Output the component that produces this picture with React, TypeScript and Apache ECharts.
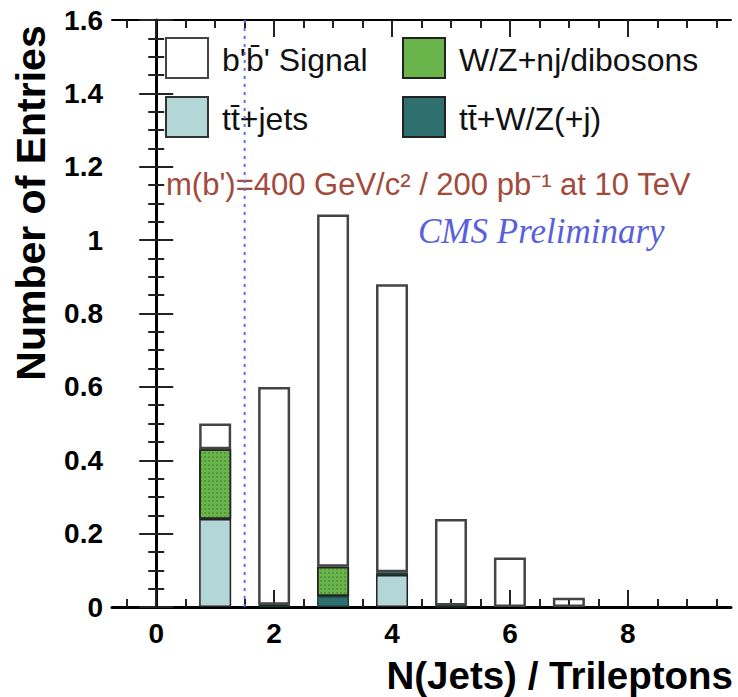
import React, { useEffect, useRef } from "react";
import * as echarts from "echarts";

// Jet multiplicity bins
const bins = [0, 1, 2, 3, 4, 5, 6, 7, 8, 9];

// Stacked contributions per bin (entries)
const ttJets = [0, 0.24, 0, 0, 0.087, 0, 0, 0, 0, 0];
const ttWZ = [0, 0, 0.003, 0.03, 0.008, 0.002, 0, 0, 0, 0];
const wzJets = [0, 0.19, 0.003, 0.08, 0, 0.002, 0, 0, 0, 0];
const signal = [0, 0.07, 0.594, 0.96, 0.785, 0.236, 0.135, 0.025, 0, 0];

// Axis ticks
const xMajorTicks = [0, 2, 4, 6, 8];
const xMinorTicks = [-0.5, 0.5, 1, 1.5, 2.5, 3, 3.5, 4.5, 5, 5.5, 6.5, 7, 7.5, 8.5, 9, 9.5];
const xRange = [-0.75, 9.75];
const yRange = [0, 1.6];
const yStep = 0.2;
const cutValue = 1.5;

const SANS = '"Liberation Sans", Arial, Helvetica, sans-serif';
const SERIF = '"Liberation Serif", "Times New Roman", serif';

const C_SIGNAL = "#ffffff";
const C_TTJETS = "#b3d6d6";
const C_TTWZ = "#2f6f6d";
const C_WZ = "#6ab54b";

// Value column first so that the stack runs along the y axis
const toData = (vals: number[]) => bins.map((b, i) => [vals[i] === 0 ? null : vals[i], b]);

export default function App() {
  const ref = useRef<HTMLDivElement>(null);

  useEffect(() => {
    document.body.style.margin = "0";
    const chart = echarts.init(ref.current!, null, { renderer: "svg" });

    const xBase = {
      type: "value",
      min: xRange[0],
      max: xRange[1],
      splitLine: { show: false },
    };
    const yBase = {
      type: "value",
      min: yRange[0],
      max: yRange[1],
      interval: yStep,
      splitLine: { show: false },
    };

    const barCommon = {
      type: "bar",
      stack: "total",
      barWidth: 32,
      xAxisIndex: 0,
      yAxisIndex: 0,
      encode: { x: 1, y: 0 },
    };

    const legendRows = [
      { x: 166, y: 38, color: C_SIGNAL, label: "b'b\u0304' Signal", border: "#444" },
      { x: 403, y: 38, color: C_WZ, label: "W/Z+nj/dibosons", border: "#222" },
      { x: 166, y: 97, color: C_TTJETS, label: "tt\u0304+jets", border: "#333" },
      { x: 403, y: 97, color: C_TTWZ, label: "tt\u0304+W/Z(+j)", border: "#222" },
    ];

    const graphics: any[] = [];
    legendRows.forEach((r) => {
      graphics.push({
        type: "rect",
        shape: { x: r.x, y: r.y, width: 42, height: 40 },
        style: { fill: r.color, stroke: r.border, lineWidth: 2 },
      });
      graphics.push({
        type: "text",
        x: r.x + 56,
        y: r.y + 22,
        style: {
          text: r.label,
          font: `32px ${SANS}`,
          fill: "#111",
          verticalAlign: "middle",
          align: "left",
        },
      });
    });

    graphics.push(
      {
        type: "text",
        x: 166,
        y: 184,
        style: {
          text: "m(b')=400 GeV/c² / 200 pb⁻¹ at 10 TeV",
          font: `31px ${SANS}`,
          fill: "#a24a3c",
          verticalAlign: "middle",
          align: "left",
        },
      },
      {
        type: "text",
        x: 418,
        y: 231,
        style: {
          text: "CMS Preliminary",
          font: `italic 35px ${SERIF}`,
          fill: "#5a5fdc",
          verticalAlign: "middle",
          align: "left",
        },
      },
      {
        type: "text",
        x: 31,
        y: 203,
        rotation: Math.PI / 2,
        style: {
          text: "Number of Entries",
          font: `bold 41px ${SANS}`,
          fill: "#000",
          verticalAlign: "middle",
          align: "center",
        },
      },
      {
        type: "text",
        x: 733,
        y: 675,
        style: {
          text: "N(Jets) / Trileptons",
          font: `bold 38.5px ${SANS}`,
          fill: "#000",
          verticalAlign: "middle",
          align: "right",
        },
      }
    );

    chart.setOption({
      animation: false,
      backgroundColor: "#ffffff",
      grid: { left: 112, right: 7, top: 20, bottom: 90, outerBoundsMode: "none" },
      xAxis: [
        {
          ...xBase,
          position: "bottom",
          axisLine: { show: true, lineStyle: { color: "#000", width: 3 } },
          axisTick: {
            show: true,
            inside: true,
            length: 17,
            customValues: xMajorTicks,
            lineStyle: { color: "#222", width: 2 },
          },
          axisLabel: {
            show: true,
            customValues: xMajorTicks,
            margin: 12,
            color: "#000",
            fontFamily: SANS,
            fontWeight: "bold",
            fontSize: 28,
          },
        },
        {
          ...xBase,
          position: "bottom",
          axisLine: { show: false },
          axisTick: {
            show: true,
            inside: true,
            length: 8,
            customValues: xMinorTicks,
            lineStyle: { color: "#222", width: 2 },
          },
          axisLabel: { show: false },
        },
        {
          ...xBase,
          position: "top",
          axisLine: { show: true, lineStyle: { color: "#000", width: 2 } },
          axisTick: {
            show: true,
            inside: true,
            length: 17,
            customValues: xMajorTicks,
            lineStyle: { color: "#222", width: 2 },
          },
          axisLabel: { show: false },
        },
        {
          ...xBase,
          position: "top",
          axisLine: { show: false },
          axisTick: {
            show: true,
            inside: true,
            length: 8,
            customValues: xMinorTicks,
            lineStyle: { color: "#222", width: 2 },
          },
          axisLabel: { show: false },
        },
      ],
      yAxis: [
        {
          ...yBase,
          position: "left",
          axisLine: { show: true, lineStyle: { color: "#000", width: 3 } },
          axisTick: { show: true, inside: true, length: 17, lineStyle: { color: "#222", width: 2 } },
          minorTick: { show: true, splitNumber: 4, length: 8, lineStyle: { color: "#222", width: 2 } },
          axisLabel: {
            show: true,
            margin: 9,
            color: "#000",
            fontFamily: SANS,
            fontWeight: "bold",
            fontSize: 28,
          },
        },
        {
          ...yBase,
          position: "right",
          axisLine: { show: true, lineStyle: { color: "#000", width: 2 } },
          axisTick: { show: true, inside: true, length: 17, lineStyle: { color: "#222", width: 2 } },
          minorTick: { show: true, splitNumber: 4, length: 8, lineStyle: { color: "#222", width: 2 } },
          axisLabel: { show: false },
        },
      ],
      series: [
        {
          ...barCommon,
          name: "tt̄+jets",
          data: toData(ttJets),
          itemStyle: { color: C_TTJETS, borderColor: "#222", borderWidth: 1.5 },
        },
        {
          ...barCommon,
          name: "tt̄+W/Z(+j)",
          data: toData(ttWZ),
          itemStyle: { color: C_TTWZ, borderColor: "#1c3c3a", borderWidth: 1.5 },
        },
        {
          ...barCommon,
          name: "W/Z+nj/dibosons",
          data: toData(wzJets),
          itemStyle: {
            color: C_WZ,
            borderColor: "#222",
            borderWidth: 1.5,
            decal: {
              symbol: "rect",
              symbolSize: 1,
              dashArrayX: [2, 2],
              dashArrayY: [2, 2],
              color: "rgba(40, 100, 30, 0.35)",
            },
          },
        },
        {
          ...barCommon,
          name: "b'b̄' Signal",
          data: toData(signal),
          itemStyle: { color: "rgba(255,255,255,0)", borderColor: "#444", borderWidth: 2.5 },
        },
        {
          type: "line",
          name: "cut",
          xAxisIndex: 0,
          yAxisIndex: 0,
          symbol: "none",
          data: [
            [cutValue, yRange[0]],
            [cutValue, yRange[1]],
          ],
          lineStyle: { color: "#5577ee", width: 2, type: [3, 5] },
          z: 5,
        },
      ],
      graphic: graphics,
    });

    return () => chart.dispose();
  }, []);

  return (
    <div
      ref={ref}
      style={{ position: "absolute", left: 0, top: 0, width: 738, height: 697 }}
    />
  );
}
